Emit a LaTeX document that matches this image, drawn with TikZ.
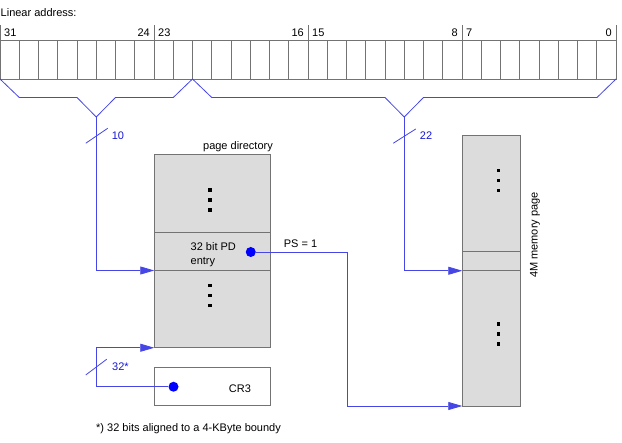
\documentclass[tikz,border=0pt]{standalone}
\usepackage{fontspec}
\setmainfont{Liberation Sans}
\usetikzlibrary{arrows.meta,positioning}

\definecolor{linkblue}{RGB}{70,70,230}
\definecolor{textblue}{RGB}{25,25,210}
\definecolor{dotblue}{RGB}{0,0,255}
\definecolor{boxgray}{RGB}{220,220,220}
\definecolor{edgegray}{RGB}{115,115,115}

\begin{document}
\begin{tikzpicture}[x=1pt,y=-1pt,font=\fontsize{11}{12}\selectfont,
        cell/.style={draw=edgegray,line width=0.8pt,minimum width=19.25pt,minimum height=39pt,inner sep=0pt,outer sep=0pt},
        bitnum/.style={inner xsep=4pt,inner ysep=3pt},
        fillbox/.style={draw=edgegray,line width=0.8pt,fill=boxgray,inner sep=0pt,outer sep=0pt},
        plainbox/.style={draw=edgegray,line width=0.8pt,inner sep=0pt,outer sep=0pt},
        link/.style={draw=linkblue,line width=0.8pt},
        tip/.style={-{Triangle[length=14pt,width=8pt,fill=linkblue]}},
        dot/.style={circle,fill=dotblue,minimum size=10pt,inner sep=0pt},
        sq/.style={fill=black,minimum size=3.5pt,inner sep=0pt},
        buslabel/.style={text=textblue,inner sep=0pt}]
        \fill[white] (0,0) rectangle (622,443);
        \useasboundingbox (0,0) rectangle (622,443);

        % linear address register
        \node[cell] (b31) at (9.625,59.5) {};
        \foreach \b [remember=\b as \p (initially 31)] in {30,...,0}
        {\node[cell,right=0pt of b\p] (b\b) {};}

        \node[anchor=west,inner sep=0pt] (title) at (0.5,13) {Linear address:};
        \node[bitnum,anchor=south west] (n31) at (b31.north west) {31};
        \node[bitnum,anchor=south east] (n24) at (b24.north east) {24};
        \node[bitnum,anchor=south west] (n23) at (b23.north west) {23};
        \node[bitnum,anchor=south east] (n16) at (b16.north east) {16};
        \node[bitnum,anchor=south west] (n15) at (b15.north west) {15};
        \node[bitnum,anchor=south east] (n8) at (b8.north east) {8};
        \node[bitnum,anchor=south west] (n7) at (b7.north west) {7};
        \node[bitnum,anchor=south east] (n0) at (b0.north east) {0};
        \foreach \X in {b31.north west,b23.north west,b15.north west,b7.north west,b0.north east}
        {\draw[edgegray,line width=0.8pt] (\X) -- ++(0,-15);}

        % bit groups
        \coordinate (dirtap) at (96.25,117);
        \coordinate (offtap) at (404.25,117);
        \draw[link] (b31.south west) -- (19.25,97.5) -- (77,97.5) -- (dirtap)
                -- (115.5,97.5) -- (173.25,97.5) -- (b22.south east);
        \draw[link] (b21.south west) -- (211.75,97.5) -- (385,97.5) -- (offtap)
                -- (423.5,97.5) -- (597,97.5) -- (b0.south east);

        % page directory
        \node[fillbox,minimum width=116pt,minimum height=193pt] (pd) at (212.25,251.25) {};
        \node[fillbox,minimum width=116pt,minimum height=38.5pt] (pde) at (pd.center) {};
        \node[anchor=south,inner sep=3pt] (pdname) at (pd.north -| 238,0) {page directory};
        \node[align=left,anchor=west,inner sep=0pt] (pdtext) at (190.5,255) {32 bit PD\\[2pt]entry};
        \node[dot] (pddot) at (250.75,252) {};
        \foreach \Y in {190,200,210,285.5,295.5,305.5}
        {\node[sq] at (209.75,\Y) {};}

        % CR3
        \node[plainbox,minimum width=116pt,minimum height=38.5pt,below=19.5pt of pd] (cr3) {};
        \node[inner sep=0pt] (cr3name) at (240,389) {CR3};
        \node[dot] (crdot) at (173.5,386.75) {};

        % 4M memory page
        \node[fillbox,minimum width=58pt,minimum height=270.5pt] (mem) at (491.25,270.75) {};
        \node[fillbox,minimum width=58pt,minimum height=19.5pt,anchor=south] (memrow) at (mem.center) {};
        \node[rotate=90,inner sep=0pt] (memname) at (535,235) {4M memory page};
        \foreach \Y in {170.5,180.5,190.5,324,334,344}
        {\node[sq] at (498.25,\Y) {};}

        % connections
        \draw[link,tip] (dirtap) -- (dirtap |- pde.south) -- (pde.south west);
        \draw[link,tip] (offtap) -- (offtap |- memrow.south) -- (memrow.south west);
        \coordinate (psbend) at (347,252);
        \draw[link,tip] (pddot) -- (psbend) -- (psbend |- mem.south) -- (mem.south west);
        \draw[link,tip] (crdot) -- (crdot -| dirtap) -- (dirtap |- pd.south) -- (pd.south west);
        \node[inner sep=0pt] (ps) at (300.5,244) {PS = 1};

        % bus widths
        \draw[link] (85.75,143.25) -- (107.75,128.25);
        \node[buslabel] (w10) at (118,136) {10};
        \draw[link] (393.25,143.25) -- (415.75,129);
        \node[buslabel] (w22) at (426,136) {22};
        \draw[link] (85.75,375) -- (106.75,359.25);
        \node[buslabel] (w32) at (120.5,366.5) {32*};

        \node[anchor=west,inner sep=0pt] (note) at (96,429) {*) 32 bits aligned to a 4-KByte boundy};
\end{tikzpicture}
\end{document}
